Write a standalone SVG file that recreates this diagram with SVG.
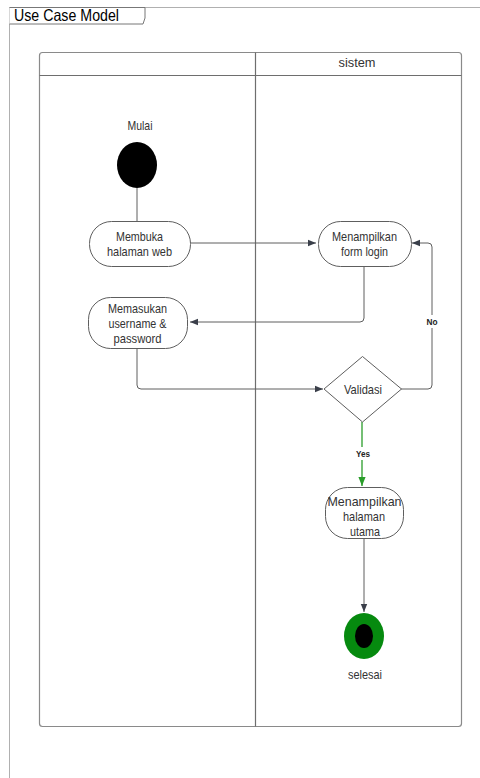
<svg xmlns="http://www.w3.org/2000/svg" width="480" height="778" viewBox="0 0 480 778">
<style>
.t{font-family:"Liberation Sans",Arial,sans-serif;font-size:13px;fill:#333;text-anchor:middle}
.t5{font-family:"Liberation Sans",Arial,sans-serif;font-size:13.5px;fill:#333;text-anchor:middle}
.n{fill:#fff;stroke:#5e5e5e;stroke-width:1}
.c{fill:none;stroke:#5e5e5e;stroke-width:1}
.g{fill:none;stroke:#2a9d2a;stroke-width:1.3}
.lb{font-family:"Liberation Sans",Arial,sans-serif;font-size:9.5px;font-weight:bold;fill:#222;text-anchor:middle}
</style>
<defs>
<marker id="a" viewBox="0 0 10 10" refX="10" refY="5" markerWidth="8" markerHeight="8" markerUnits="userSpaceOnUse" orient="auto"><path d="M0,1L10,5L0,9z" fill="#3a3f4a"/></marker>
<marker id="ag" viewBox="0 0 10 10" refX="10" refY="5" markerWidth="9" markerHeight="9" markerUnits="userSpaceOnUse" orient="auto"><path d="M0,1L10,5L0,9z" fill="#2a9d2a"/></marker>
</defs>
<rect width="480" height="778" fill="#fff"/>
<g id="frame">
<path d="M9.5,778V7.5H480" fill="none" stroke="#b0b0b0" stroke-width="1"/>
<path d="M9.5,7.5H145V18L143,24H9.5" fill="#fff" stroke="#777" stroke-width="1"/>
<text x="14" y="21" textLength="105" lengthAdjust="spacingAndGlyphs" style="font-family:'Liberation Sans',Arial,sans-serif;font-size:16.5px;fill:#000">Use Case Model</text>
</g>
<g id="lanes">
<rect x="39.5" y="52.5" width="422" height="674" rx="3" fill="none" stroke="#8a8a8a" stroke-width="1.2"/>
<line x1="39.5" y1="75.5" x2="461.5" y2="75.5" stroke="#6e6e6e" stroke-width="1"/>
<line x1="255.5" y1="52.5" x2="255.5" y2="726.5" stroke="#6e6e6e" stroke-width="1.2"/>
<text class="t" x="357" y="67" textLength="37" lengthAdjust="spacingAndGlyphs">sistem</text>
</g>
<g id="connectors">
<path class="c" d="M137,188V221"/>
<path class="c" d="M190,243H316" marker-end="url(#a)"/>
<path class="c" d="M364,266V318Q364,322 360,322H190" marker-end="url(#a)"/>
<path class="c" d="M137,348V385Q137,389 141,389H323" marker-end="url(#a)"/>
<path class="c" d="M401,389H428Q432,389 432,385V247Q432,243 428,243H412" marker-end="url(#a)"/>
<rect x="425" y="315" width="14" height="13" fill="#fff"/>
<text class="lb" x="432" y="325" textLength="11" lengthAdjust="spacingAndGlyphs">No</text>
<path class="g" d="M362,422V486" marker-end="url(#ag)"/>
<rect x="353" y="447" width="20" height="13" fill="#fff"/>
<text class="lb" x="363" y="457" textLength="14" lengthAdjust="spacingAndGlyphs">Yes</text>
<path class="c" d="M364,538V612" marker-end="url(#a)"/>
</g>
<g id="start">
<text class="t" x="140" y="130" textLength="25" lengthAdjust="spacingAndGlyphs">Mulai</text>
<ellipse cx="137" cy="165" rx="20" ry="23" fill="#000"/>
</g>
<g id="n1">
<rect class="n" x="89.5" y="221.5" width="101" height="45" rx="22"/>
<text class="t" x="139.5" y="241" textLength="47" lengthAdjust="spacingAndGlyphs">Membuka</text>
<text class="t" x="139.5" y="255.5" textLength="65" lengthAdjust="spacingAndGlyphs">halaman web</text>
</g>
<g id="n2">
<rect class="n" x="318.5" y="221.5" width="93" height="45" rx="22"/>
<text class="t" x="364.5" y="241" textLength="65" lengthAdjust="spacingAndGlyphs">Menampilkan</text>
<text class="t" x="364.5" y="255.5" textLength="47" lengthAdjust="spacingAndGlyphs">form login</text>
</g>
<g id="n3">
<rect class="n" x="88.5" y="297.5" width="99" height="51" rx="22"/>
<text class="t" x="137.5" y="313" textLength="59" lengthAdjust="spacingAndGlyphs">Memasukan</text>
<text class="t" x="137.5" y="328" textLength="58" lengthAdjust="spacingAndGlyphs">username &amp;</text>
<text class="t" x="137.5" y="343" textLength="48" lengthAdjust="spacingAndGlyphs">password</text>
</g>
<g id="n4">
<path class="n" d="M362.5,356.5L401.5,389L362.5,422L324,389Z"/>
<text class="t" x="363" y="393.5" textLength="38" lengthAdjust="spacingAndGlyphs">Validasi</text>
</g>
<g id="n5">
<rect class="n" x="325.5" y="487.5" width="78" height="51" rx="22"/>
<text class="t5" x="364.5" y="506" textLength="74" lengthAdjust="spacingAndGlyphs">Menampilkan</text>
<text class="t5" x="364" y="521" textLength="42" lengthAdjust="spacingAndGlyphs">halaman</text>
<text class="t5" x="365" y="535.5" textLength="30" lengthAdjust="spacingAndGlyphs">utama</text>
</g>
<g id="end">
<ellipse cx="364" cy="636" rx="20" ry="23" fill="#068a0f"/>
<ellipse cx="364" cy="636" rx="9" ry="12" fill="#000"/>
<text class="t" x="365" y="678.5" textLength="34" lengthAdjust="spacingAndGlyphs">selesai</text>
</g>
</svg>
